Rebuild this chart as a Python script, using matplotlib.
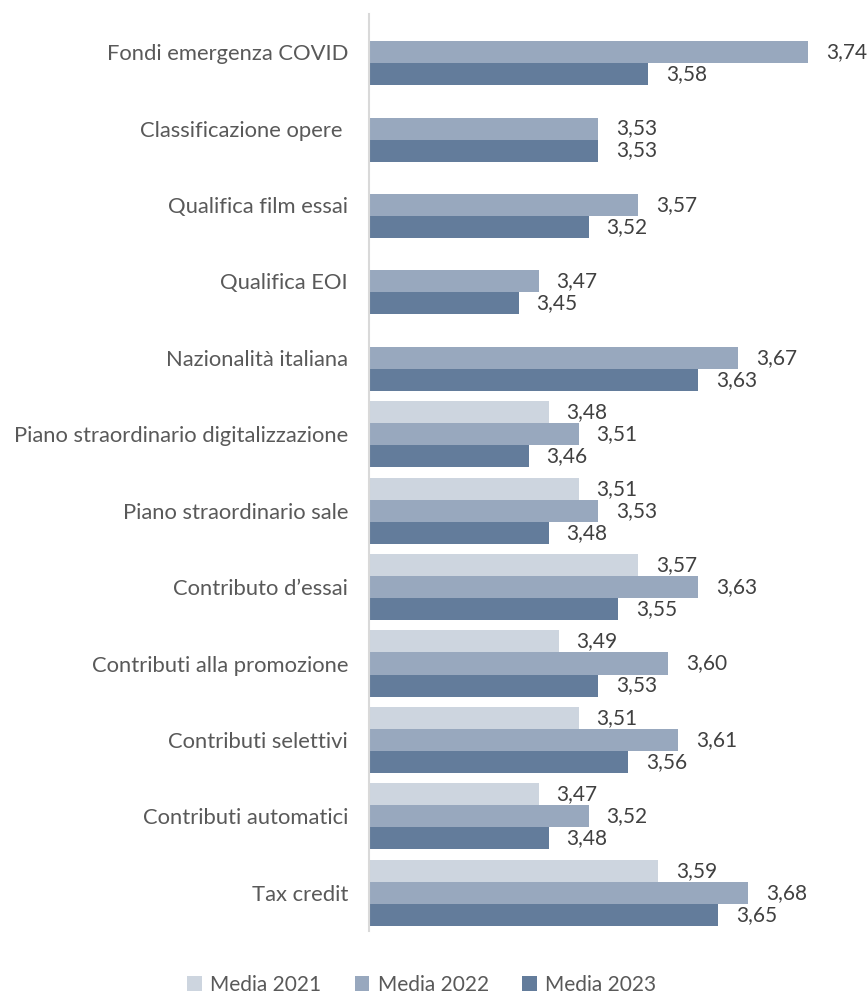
import numpy as np
import matplotlib
matplotlib.use("Agg")
from matplotlib import pyplot as plt
from matplotlib.patches import Patch

categories = [
    "Fondi emergenza COVID",
    "Classificazione opere ",
    "Qualifica film essai",
    "Qualifica EOI",
    "Nazionalità italiana",
    "Piano straordinario digitalizzazione",
    "Piano straordinario sale",
    "Contributo d\u2019essai",
    "Contributi alla promozione",
    "Contributi selettivi",
    "Contributi automatici",
    "Tax credit",
]
# None = no value for that year
media_2021 = [None, None, None, None, None, 3.48, 3.51, 3.57, 3.49, 3.51, 3.47, 3.59]
media_2022 = [3.74, 3.53, 3.57, 3.47, 3.67, 3.51, 3.53, 3.63, 3.60, 3.61, 3.52, 3.68]
media_2023 = [3.58, 3.53, 3.52, 3.45, 3.63, 3.46, 3.48, 3.55, 3.53, 3.56, 3.48, 3.65]
series_names = ["Media 2021", "Media 2022", "Media 2023"]

colors = ["#CDD5DF", "#98A8BE", "#637C9B"]
text_col = "#595959"
val_col = "#404040"

plt.rcParams['font.family'] = ['Lato', 'DejaVu Sans']

fig = plt.figure(figsize=(8.68, 9.94), dpi=100)
ax = fig.add_axes([0.425, 0.0634, 0.575, 0.9226])

y = np.arange(len(categories))
h = 0.288
base = 3.3
offsets = [-h, 0, h]

for vals, off, col in zip([media_2021, media_2022, media_2023], offsets, colors):
    for i, v in enumerate(vals):
        if v is None:
            continue
        ax.barh(y[i] + off, v - base, left=base, height=h, color=col, linewidth=0)
        ax.text(v + 0.018, y[i] + off, f"{v:.2f}".replace(".", ","),
                va="center", ha="left", fontsize=15, color=val_col)

ax.set_xlim(base, 3.80)
ax.set_ylim(len(categories) - 0.5, -0.5)
ax.set_yticks(y)
ax.set_yticklabels(categories, fontsize=15.8, color=text_col)
ax.tick_params(axis="y", length=0, pad=15)
ax.set_xticks([])
for s in ["top", "right", "bottom"]:
    ax.spines[s].set_visible(False)
ax.spines["left"].set_color("#D9D9D9")
ax.spines["left"].set_linewidth(1.5)

handles = [Patch(facecolor=c, edgecolor="none") for c in colors]
fig.legend(handles, series_names, loc="center", bbox_to_anchor=(0.486, 0.009),
           ncol=3, frameon=False, fontsize=15, labelcolor=text_col,
           handlelength=0.7, handleheight=0.7, handletextpad=0.4, columnspacing=1.6)

fig.savefig("out.png", dpi=100)
